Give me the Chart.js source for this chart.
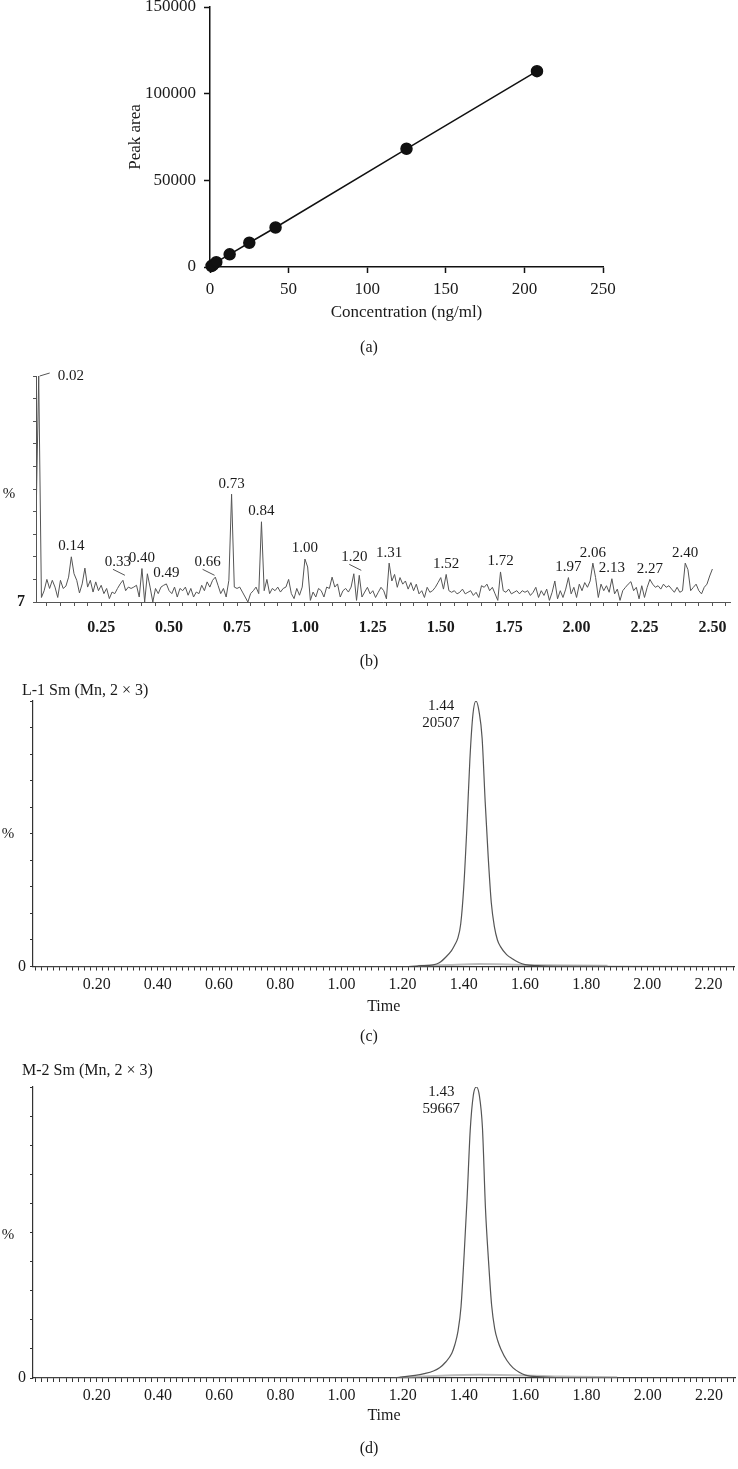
<!DOCTYPE html>
<html>
<head>
<meta charset="utf-8">
<script src="https://cdn.jsdelivr.net/npm/chart.js@4.4.1/dist/chart.umd.min.js"></script>
<style>
  body { margin: 0; background: #fff; }
  #page { position: relative; width: 738px; height: 1469px; overflow: hidden; font-family: 'Liberation Serif', serif; color: #1a1a1a; }
  canvas { position: absolute; left: 0; }
  .txt { position: absolute; white-space: nowrap; transform: translate(-50%, -50%); font-size: 16px; }
  .ttl { position: absolute; white-space: nowrap; transform: translate(0, -50%); font-size: 16px; }
</style>
</head>
<body>
<div id="page">
  <canvas id="chartA"></canvas>
  <canvas id="chartB"></canvas>
  <canvas id="chartC"></canvas>
  <canvas id="chartD"></canvas>

  <div class="txt" style="left:369px;top:347px">(a)</div>
  <div class="txt" style="left:369px;top:661px">(b)</div>
  <div class="txt" style="left:369px;top:1036px">(c)</div>
  <div class="txt" style="left:369px;top:1448px">(d)</div>

  <div class="txt" style="left:9px;top:493px;font-size:15px">%</div>
  <div class="txt" style="left:8px;top:833px;font-size:15px">%</div>
  <div class="txt" style="left:8px;top:1234px;font-size:15px">%</div>

  <div class="ttl" id="titleC" style="left:22px;top:690px"></div>
  <div class="ttl" id="titleD" style="left:22px;top:1070px"></div>
</div>

<script>
// (a) calibration curve
const concentration = [1, 2, 4, 12.5, 25, 41.7, 125, 208];
const peakArea = [600, 1200, 2800, 7300, 14000, 22800, 68200, 113000];
const aXTicks = [0, 50, 100, 150, 200, 250];
const aYTicks = [0, 50000, 100000, 150000];

// (b) blank chromatogram, sampled every 0.01 min from 0.01
const bStart = 0.01, bStep = 0.01;
const bIntensity = [
    35, 100, 2, 5, 10, 6, 9.6, 6.6, 2, 9.6,
    6, 7, 11, 20, 12.5, 9.6, 4, 8, 15, 6.6,
    9.6, 4.4, 8.9, 5, 7.4, 3.7, 6, 1.5, 4.4, 3.7,
    6, 8, 9.6, 5, 6.6, 6, 6.6, 7.4, 2.2, 14.8,
    0, 12.5, 6.6, 0, 6, 3.7, 6.6, 7.4, 8, 5,
    3.7, 6.6, 2.2, 6, 5, 6.6, 3, 6, 2.2, 4.4,
    3.7, 7.4, 5, 8.9, 6.6, 9.6, 11, 7.4, 3.7, 6,
    2.2, 9.6, 47.7, 6.6, 6, 6.6, 4.4, 2.2, 0, 3.7,
    5, 6.6, 3.7, 35.5, 5, 10, 3.7, 6, 5, 6.6,
    4.4, 6, 6.6, 10, 3.7, 1.5, 6, 3, 6.6, 19,
    15.5, 0.7, 4.4, 2.2, 6, 5, 2.2, 6.6, 6, 11,
    6.6, 8, 2.2, 5, 6, 4.4, 6.6, 12.5, 0.7, 11.8,
    2.2, 4.4, 6.5, 3.6, 5, 2, 4.3, 6.5, 5, 1.4,
    17.2, 9.3, 12.2, 6.5, 10.8, 7.9, 9.3, 5.7, 8.6, 5,
    7.9, 3.6, 5, 2, 6.5, 4.3, 5, 6.5, 8.6, 10.8,
    5.7, 12.2, 5, 4.3, 5, 3.6, 4.3, 5.7, 3.6, 4.3,
    5, 2.9, 4.3, 2, 7.2, 6.5, 7.9, 5, 6.5, 3.6,
    0.7, 13.3, 5, 4.3, 5.7, 3.6, 4.3, 5, 3.6, 5,
    4.3, 5, 2.9, 4.3, 6.5, 2, 5, 2.9, 5.7, 0.7,
    4.3, 9.3, 1.4, 5, 2, 5.7, 10.8, 3.6, 6.5, 2,
    7.9, 5, 8.6, 6.5, 9.3, 17.2, 10.8, 2, 7.9, 5,
    7.2, 4.3, 10.3, 3.6, 5.7, 0.7, 5, 6.5, 7.9, 9,
    5, 6.5, 1.4, 7.2, 2, 6.5, 10, 7.9, 6.5, 7.2,
    5.7, 7.9, 6.5, 7.2, 5.7, 4.3, 6.5, 4.3, 5, 17.2,
    14.3, 5, 6.5, 7.9, 5, 3.6, 6.5, 7.9, 11.5, 14.6
];
const bPeakLabels = ['0.02', '0.14', '0.33', '0.40', '0.49', '0.66', '0.73', '0.84', '1.00',
    '1.20', '1.31', '1.52', '1.72', '1.97', '2.06', '2.13', '2.27', '2.40'];
const bXTicks = ['0.25', '0.50', '0.75', '1.00', '1.25', '1.50', '1.75', '2.00', '2.25', '2.50'];
const bZeroLabel = '7';

// (c) L-1 trace
const cTitle = 'L-1 Sm (Mn, 2 × 3)';
const cTimes = [0.00, 1.20, 1.26, 1.30, 1.32, 1.34, 1.36, 1.37, 1.38, 1.39, 1.40, 1.41, 1.42, 1.43, 1.44,
    1.45, 1.46, 1.47, 1.48, 1.49, 1.50, 1.51, 1.52, 1.54, 1.56, 1.58, 1.60, 1.64, 1.70, 2.28];
const cIntensity = [0, 0, 0.3, 0.6, 1.4, 3.4, 6, 8, 10.5, 16, 30, 52, 78, 95, 100,
    96, 86, 62, 41, 24, 15, 10, 7.5, 4.5, 2.8, 1.5, 0.7, 0.3, 0.1, 0];
const cBaseTimes = [1.25, 1.35, 1.45, 1.60, 1.87];
const cBaseLevel = [0.2, 0.6, 0.9, 0.6, 0.3];
const cPeakTime = '1.44', cPeakArea = '20507';

// (d) M-2 trace
const dTitle = 'M-2 Sm (Mn, 2 × 3)';
const dTimes = [0.00, 1.16, 1.20, 1.24, 1.27, 1.30, 1.32, 1.34, 1.36, 1.37, 1.38, 1.39, 1.40, 1.41, 1.42, 1.43,
    1.44, 1.45, 1.46, 1.47, 1.48, 1.49, 1.50, 1.51, 1.52, 1.54, 1.56, 1.58, 1.60, 1.65, 1.75, 2.28];
const dIntensity = [0, 0, 0.4, 0.9, 1.5, 2.4, 3.5, 5.5, 8.5, 11.5, 16, 24.5, 42, 62, 85, 97,
    100, 97, 86, 58, 40, 25, 17, 12.8, 10, 6, 3.5, 2, 1, 0.4, 0, 0];
const dBaseTimes = [1.19, 1.30, 1.45, 1.60, 1.72, 1.90];
const dBaseLevel = [0.2, 0.7, 1.1, 0.9, 0.5, 0.3];
const dPeakTime = '1.43', dPeakArea = '59667';

const cdXTicks = ['0.20', '0.40', '0.60', '0.80', '1.00', '1.20', '1.40', '1.60', '1.80', '2.00', '2.20'];
const cdZeroLabel = '0';

Chart.defaults.font.family = "'Liberation Serif', serif";
Chart.defaults.color = '#1a1a1a';

document.getElementById('titleC').textContent = cTitle;
document.getElementById('titleD').textContent = dTitle;

function toPoints(xs, ys) {
    return xs.map((x, i) => ({ x: x, y: ys[i] }));
}

// put a canvas on the page and work out the padding so the plot area lands where it should
function panel(id, top, height, area, axisW, axisH) {
    const c = document.getElementById(id);
    c.width = 738;
    c.height = height;
    c.style.top = top + 'px';
    return {
        canvas: c,
        padding: {
            left: area.left - axisW,
            top: area.top - top,
            right: 738 - area.right,
            bottom: top + height - area.bottom - axisH
        }
    };
}

const peakLabels = {
    id: 'peakLabels',
    afterDatasetsDraw(chart, args, opts) {
        if (!opts.labels) return;
        const { ctx, scales: { x, y } } = chart;
        const pts = chart.data.datasets[0].data;
        ctx.save();
        ctx.font = '15px "Liberation Serif"';
        ctx.fillStyle = '#1a1a1a';
        ctx.strokeStyle = '#555';
        ctx.lineWidth = 1;
        opts.labels.forEach(label => {
            const t = parseFloat(label);
            const p = pts.reduce((a, b) => Math.abs(b.x - t) < Math.abs(a.x - t) ? b : a);
            const px = x.getPixelForValue(p.x), py = y.getPixelForValue(p.y);
            const style = opts.styles[label] || 'above';
            if (style === 'right') {
                ctx.beginPath(); ctx.moveTo(px + 1, py); ctx.lineTo(px + 11, py - 3); ctx.stroke();
                ctx.textAlign = 'left'; ctx.textBaseline = 'middle';
                ctx.fillText(label, px + 19, py);
            } else if (style === 'leader') {
                ctx.beginPath(); ctx.moveTo(px - 10, py - 11); ctx.lineTo(px + 2, py - 5); ctx.stroke();
                ctx.textAlign = 'center'; ctx.textBaseline = 'bottom';
                ctx.fillText(label, px - 5, py - 11);
            } else {
                ctx.textAlign = 'center'; ctx.textBaseline = 'bottom';
                ctx.fillText(label, px, py - 3);
            }
        });
        ctx.restore();
    }
};

const peakNote = {
    id: 'peakNote',
    afterDatasetsDraw(chart, args, opts) {
        if (!opts.lines) return;
        const { ctx, scales: { x, y } } = chart;
        const pts = chart.data.datasets[0].data;
        const top = pts.reduce((a, b) => b.y > a.y ? b : a);
        const px = x.getPixelForValue(top.x), py = y.getPixelForValue(top.y);
        ctx.save();
        ctx.font = '15px "Liberation Serif"';
        ctx.fillStyle = '#1a1a1a';
        ctx.textAlign = 'center';
        ctx.textBaseline = 'middle';
        ctx.fillText(opts.lines[0], px - 35, py + 5);
        ctx.fillText(opts.lines[1], px - 35, py + 22);
        ctx.restore();
    }
};

const baseOptions = {
    responsive: false,
    animation: false,
    events: [],
    plugins: { legend: { display: false }, tooltip: { enabled: false } }
};

// ---------- (a)
const pa = panel('chartA', -20, 360, { left: 210, top: 7, right: 603, bottom: 267 }, 85, 56);
new Chart(pa.canvas, {
    type: 'scatter',
    data: {
        datasets: [{
            data: toPoints(concentration, peakArea),
            showLine: true,
            borderColor: '#111',
            borderWidth: 1.5,
            pointRadius: 5.5,
            pointBackgroundColor: '#111',
            pointBorderColor: '#111',
            clip: false
        }]
    },
    options: {
        ...baseOptions,
        layout: { padding: pa.padding },
        scales: {
            x: {
                type: 'linear', min: 0, max: 250,
                ticks: { stepSize: 50, padding: 6, font: { size: 17 }, maxRotation: 0,
                    callback: v => aXTicks.includes(v) ? String(v) : '' },
                grid: { drawOnChartArea: false, tickLength: 6, tickColor: '#111', tickWidth: 1.5 },
                border: { color: '#111', width: 1.5 },
                title: { display: true, text: 'Concentration (ng/ml)', font: { size: 17 }, padding: 0 },
                afterFit: s => { s.height = 56; }
            },
            y: {
                min: 0, max: 150000,
                ticks: { stepSize: 50000, padding: 8, font: { size: 17 },
                    callback: v => aYTicks.includes(v) ? String(v) : '' },
                grid: { drawOnChartArea: false, tickLength: 6, tickColor: '#111', tickWidth: 1.5 },
                border: { color: '#111', width: 1.5 },
                title: { display: true, text: 'Peak area', font: { size: 17 }, padding: 0 },
                afterFit: s => { s.width = 85; }
            }
        }
    }
});

// ---------- (b)
const bTimes = bIntensity.map((_, i) => +(bStart + i * bStep).toFixed(2));
const pb = panel('chartB', 350, 300, { left: 36, top: 376, right: 734.3, bottom: 602 }, 36, 40);
new Chart(pb.canvas, {
    type: 'scatter',
    data: {
        datasets: [{
            data: toPoints(bTimes, bIntensity),
            showLine: true,
            borderColor: '#555',
            borderWidth: 1,
            pointRadius: 0
        }]
    },
    options: {
        ...baseOptions,
        layout: { padding: pb.padding },
        plugins: {
            ...baseOptions.plugins,
            peakLabels: {
                labels: bPeakLabels,
                styles: { '0.02': 'right', '0.33': 'leader', '0.66': 'leader', '1.20': 'leader' }
            }
        },
        scales: {
            x: {
                type: 'linear', min: 0.01, max: 2.565,
                ticks: { stepSize: 0.05, autoSkip: false, includeBounds: false, maxRotation: 0, minRotation: 0,
                    padding: 12, font: { size: 16, weight: 'bold' },
                    callback: v => bXTicks.includes(v.toFixed(2)) ? v.toFixed(2) : '' },
                grid: { drawOnChartArea: false, tickLength: 4, tickColor: '#555' },
                border: { color: '#555', width: 1 },
                afterFit: s => { s.height = 40; }
            },
            y: {
                min: 0, max: 100,
                ticks: { stepSize: 10, autoSkip: false, padding: 8, font: { size: 16, weight: 'bold' },
                    callback: v => v === 0 ? bZeroLabel : '' },
                grid: { drawOnChartArea: false, tickLength: 3, tickColor: '#555' },
                border: { color: '#555', width: 1 },
                afterFit: s => { s.width = 36; }
            }
        }
    },
    plugins: [peakLabels]
});

// ---------- (c) and (d) share the same look
function traceChart(p, times, intensity, baseTimes, baseLevel, peakTime, peakAreaLabel, axisH, labelPad) {
    return new Chart(p.canvas, {
        type: 'scatter',
        data: {
            datasets: [{
                data: toPoints(times, intensity),
                showLine: true,
                borderColor: '#555',
                borderWidth: 1.2,
                pointRadius: 0,
                cubicInterpolationMode: 'monotone'
            }, {
                data: toPoints(baseTimes, baseLevel),
                showLine: true,
                borderColor: 'rgba(160,160,160,0.7)',
                borderWidth: 2,
                pointRadius: 0,
                cubicInterpolationMode: 'monotone'
            }]
        },
        options: {
            ...baseOptions,
            layout: { padding: p.padding },
            plugins: { ...baseOptions.plugins, peakNote: { lines: [peakTime, peakAreaLabel] } },
            scales: {
                x: {
                    type: 'linear', min: -0.008, max: 2.285,
                    ticks: { stepSize: 0.02, autoSkip: false, includeBounds: false, maxRotation: 0, minRotation: 0,
                        padding: labelPad, font: { size: 16 },
                        callback: v => cdXTicks.includes(v.toFixed(2)) ? v.toFixed(2) : '' },
                    grid: { drawOnChartArea: false, tickLength: 4, tickColor: '#333' },
                    border: { color: '#333', width: 1.2 },
                    title: { display: true, text: 'Time', font: { size: 16 }, padding: 0 },
                    afterFit: s => { s.height = axisH; }
                },
                y: {
                    min: 0, max: 100,
                    ticks: { stepSize: 10, autoSkip: false, padding: 4, font: { size: 16 },
                        callback: v => v === 0 ? cdZeroLabel : '' },
                    grid: { drawOnChartArea: false, tickLength: 3, tickColor: '#333' },
                    border: { color: '#333', width: 1.2 },
                    afterFit: s => { s.width = 33; }
                }
            }
        },
        plugins: [peakNote]
    });
}

const pc = panel('chartC', 680, 340, { left: 33, top: 701, right: 738, bottom: 966.5 }, 33, 50);
traceChart(pc, cTimes, cIntensity, cBaseTimes, cBaseLevel, cPeakTime, cPeakArea, 50, 5);

const pd = panel('chartD', 1062, 398, { left: 33, top: 1087, right: 738, bottom: 1378 }, 33, 47);
traceChart(pd, dTimes, dIntensity, dBaseTimes, dBaseLevel, dPeakTime, dPeakArea, 47, 4.5);
</script>
</body>
</html>
